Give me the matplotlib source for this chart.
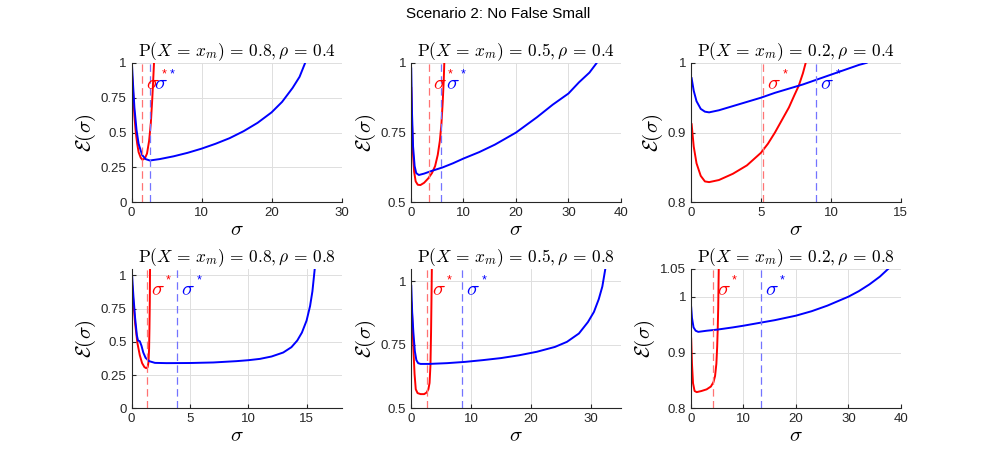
import numpy as np
import matplotlib.pyplot as plt
from matplotlib.transforms import blended_transform_factory

plt.rcParams['font.family'] = ['Liberation Sans', 'DejaVu Sans']
plt.rcParams['mathtext.fontset'] = 'cm'

# panel titles (P(X = x_m), rho)
p_vals = ['0.8', '0.5', '0.2', '0.8', '0.5', '0.2']
rho_vals = ['0.4', '0.4', '0.4', '0.8', '0.8', '0.8']

# red curves (sigma, E)
red_s = [
    [0.05, 0.2, 0.4, 0.6, 0.8, 1.0, 1.3, 1.55, 1.9, 2.2, 2.5, 2.75, 2.95, 3.08, 3.2],
    [0.05, 0.2, 0.4, 0.6, 0.9, 1.3, 1.8, 2.5, 3.3, 4.0, 4.6, 5.1, 5.5, 5.8, 6.05, 6.25, 6.35],
    [0.05, 0.2, 0.4, 0.7, 1.0, 1.3, 2, 3, 4, 5, 5.5, 6, 6.5, 7, 7.4, 7.7, 8.0, 8.2],
    [0.05, 0.15, 0.3, 0.5, 0.7, 0.9, 1.1, 1.25, 1.38, 1.45, 1.5, 1.53, 1.56, 1.58],
    [0.05, 0.15, 0.25, 0.4, 0.6, 0.8, 1.1, 1.6, 2.2, 2.6, 2.9, 3.1, 3.25, 3.35, 3.42, 3.48],
    [0.05, 0.2, 0.4, 0.7, 1.1, 2, 3, 3.8, 4.3, 4.6, 4.85, 5.0, 5.1, 5.2, 5.3],
]
red_e = [
    [0.92, 0.8, 0.62, 0.5, 0.42, 0.36, 0.32, 0.305, 0.315, 0.35, 0.44, 0.57, 0.74, 0.87, 1.0],
    [0.91, 0.78, 0.67, 0.61, 0.575, 0.563, 0.562, 0.57, 0.586, 0.605, 0.63, 0.67, 0.72, 0.78, 0.86, 0.94, 1.0],
    [0.912, 0.88, 0.856, 0.838, 0.83, 0.829, 0.832, 0.841, 0.853, 0.871, 0.884, 0.9, 0.918, 0.936, 0.954, 0.967, 0.985, 1.0],
    [0.92, 0.8, 0.64, 0.49, 0.4, 0.34, 0.31, 0.302, 0.31, 0.35, 0.45, 0.6, 0.8, 1.05],
    [0.917, 0.89, 0.83, 0.735, 0.635, 0.575, 0.56, 0.556, 0.556, 0.562, 0.575, 0.6, 0.67, 0.8, 0.93, 1.05],
    [0.925, 0.88, 0.845, 0.831, 0.829, 0.831, 0.834, 0.839, 0.847, 0.858, 0.88, 0.91, 0.94, 0.98, 1.05],
]

# blue curves (sigma, E)
blue_s = [
    [0.05, 0.2, 0.4, 0.7, 1.0, 1.5, 2.0, 2.6, 4, 6, 8, 10, 12, 14, 16, 18, 20, 21.5, 23, 24, 24.8],
    [0.05, 0.2, 0.4, 0.7, 1.0, 1.5, 2.5, 4, 6, 8, 10, 13, 16, 20, 24, 27, 30, 32, 34, 35.4],
    [0.05, 0.2, 0.4, 0.7, 1.0, 1.3, 2, 3, 4, 5, 6, 7, 8, 9, 10, 11, 12, 12.55],
    [0.05, 0.15, 0.3, 0.45, 0.55, 0.7, 0.85, 1.0, 1.2, 1.5, 2, 3, 5, 7, 9, 10, 11, 12, 13, 13.7, 14.2, 14.6, 15.0, 15.3, 15.5, 15.7],
    [0.05, 0.2, 0.4, 0.65, 0.9, 1.2, 1.6, 3, 6, 9, 12, 15, 18, 21, 24, 26, 28, 29.5, 30.5, 31.3, 31.9, 32.4],
    [0.05, 0.2, 0.5, 0.9, 1.4, 3, 5, 8, 10, 13, 16, 20, 23, 26, 28, 30, 32, 34, 36, 37.6],
]
blue_e = [
    [0.99, 0.85, 0.68, 0.52, 0.42, 0.34, 0.31, 0.30, 0.31, 0.33, 0.355, 0.385, 0.42, 0.46, 0.51, 0.57, 0.645, 0.72, 0.82, 0.9, 1.0],
    [0.98, 0.82, 0.7, 0.63, 0.605, 0.598, 0.603, 0.613, 0.625, 0.64, 0.657, 0.68, 0.707, 0.75, 0.805, 0.85, 0.89, 0.93, 0.965, 1.0],
    [0.978, 0.96, 0.945, 0.934, 0.93, 0.929, 0.932, 0.938, 0.944, 0.95, 0.957, 0.963, 0.969, 0.976, 0.983, 0.99, 0.997, 1.0],
    [0.99, 0.85, 0.68, 0.55, 0.51, 0.505, 0.47, 0.42, 0.38, 0.355, 0.342, 0.34, 0.341, 0.345, 0.355, 0.362, 0.372, 0.39, 0.42, 0.46, 0.51, 0.57, 0.66, 0.77, 0.88, 1.05],
    [0.983, 0.88, 0.8, 0.725, 0.69, 0.678, 0.675, 0.675, 0.678, 0.683, 0.69, 0.698, 0.709, 0.723, 0.742, 0.762, 0.795, 0.84, 0.88, 0.93, 0.98, 1.05],
    [0.981, 0.962, 0.945, 0.939, 0.937, 0.939, 0.941, 0.945, 0.948, 0.953, 0.958, 0.966, 0.974, 0.984, 0.992, 1.0, 1.01, 1.022, 1.036, 1.05],
]

# optimal sigma (dashed lines)
red_star = [1.5, 3.35, 5.17, 1.28, 2.75, 4.13]
blue_star = [2.66, 5.8, 8.95, 3.9, 8.55, 13.27]

xlims = [(0, 30), (0, 40), (0, 15), (0, 18), (0, 35), (0, 40)]
ylims = [(0, 1), (0.5, 1), (0.8, 1), (0, 1.05), (0.5, 1.05), (0.8, 1.05)]
xticks = [[0, 10, 20, 30], [0, 10, 20, 30, 40], [0, 5, 10, 15],
          [0, 5, 10, 15], [0, 10, 20, 30], [0, 10, 20, 30, 40]]
yticks = [[0, 0.25, 0.5, 0.75, 1], [0.5, 0.75, 1], [0.8, 0.9, 1],
          [0, 0.25, 0.5, 0.75, 1], [0.5, 0.75, 1], [0.8, 0.9, 1, 1.05]]

fig = plt.figure(figsize=(9.97, 4.62), dpi=100)
lefts = [0.132, 0.4122, 0.693]
bottoms = [0.562, 0.1162]
dark = (0.15, 0.15, 0.15)


def star_label(ax, x, col):
    # sigma with a small raised asterisk, like the MATLAB tex label
    tr = blended_transform_factory(ax.transData, ax.transAxes)
    t = ax.text(x, 0.85, r'$\sigma$', color=col, fontsize=15,
                transform=tr, ha='left', va='center')
    ax.annotate('*', xy=(1, 1), xycoords=t, xytext=(1, 0),
                textcoords='offset points', color=col, fontsize=9,
                ha='left', va='center')


for i in range(6):
    r, c = divmod(i, 3)
    ax = fig.add_axes([lefts[c], bottoms[r], 0.2106, 0.302])
    ax.grid(True, color=(0.87, 0.87, 0.87), lw=0.7)
    ax.set_axisbelow(True)
    ax.plot(red_s[i], red_e[i], color='red', lw=1.4)
    ax.plot(blue_s[i], blue_e[i], color='blue', lw=1.4)
    ax.axvline(red_star[i], color=(1, 0.45, 0.45), ls=(0, (6, 3.5)), lw=0.9)
    ax.axvline(blue_star[i], color=(0.45, 0.45, 1), ls=(0, (6, 3.5)), lw=0.9)
    rng = xlims[i][1] - xlims[i][0]
    star_label(ax, red_star[i] + 0.02 * rng, 'red')
    star_label(ax, blue_star[i] + 0.02 * rng, 'blue')
    ax.set_xlim(*xlims[i])
    ax.set_ylim(*ylims[i])
    ax.set_xticks(xticks[i])
    ax.set_yticks(yticks[i])
    ax.set_xticklabels([f'{v:g}' for v in xticks[i]])
    ax.set_yticklabels([f'{v:g}' for v in yticks[i]])
    ax.tick_params(direction='in', length=3, labelsize=9.5, colors=dark)
    for s in ['top', 'right']:
        ax.spines[s].set_visible(False)
    for s in ['left', 'bottom']:
        ax.spines[s].set_color(dark)
        ax.spines[s].set_linewidth(0.8)
    ax.set_title(r'$\mathrm{P}(X \,=\, x_m) \,=\, %s, \rho \,=\, %s$' % (p_vals[i], rho_vals[i]),
                 fontsize=12.5, pad=4)
    ax.set_xlabel(r'$\sigma$', fontsize=15, labelpad=1)
    ax.set_ylabel(r'$\mathcal{E}(\sigma)$', fontsize=15, labelpad=2)

fig.suptitle('Scenario 2: No False Small', fontsize=11, y=0.985)
fig.savefig('out.png', dpi=100)
